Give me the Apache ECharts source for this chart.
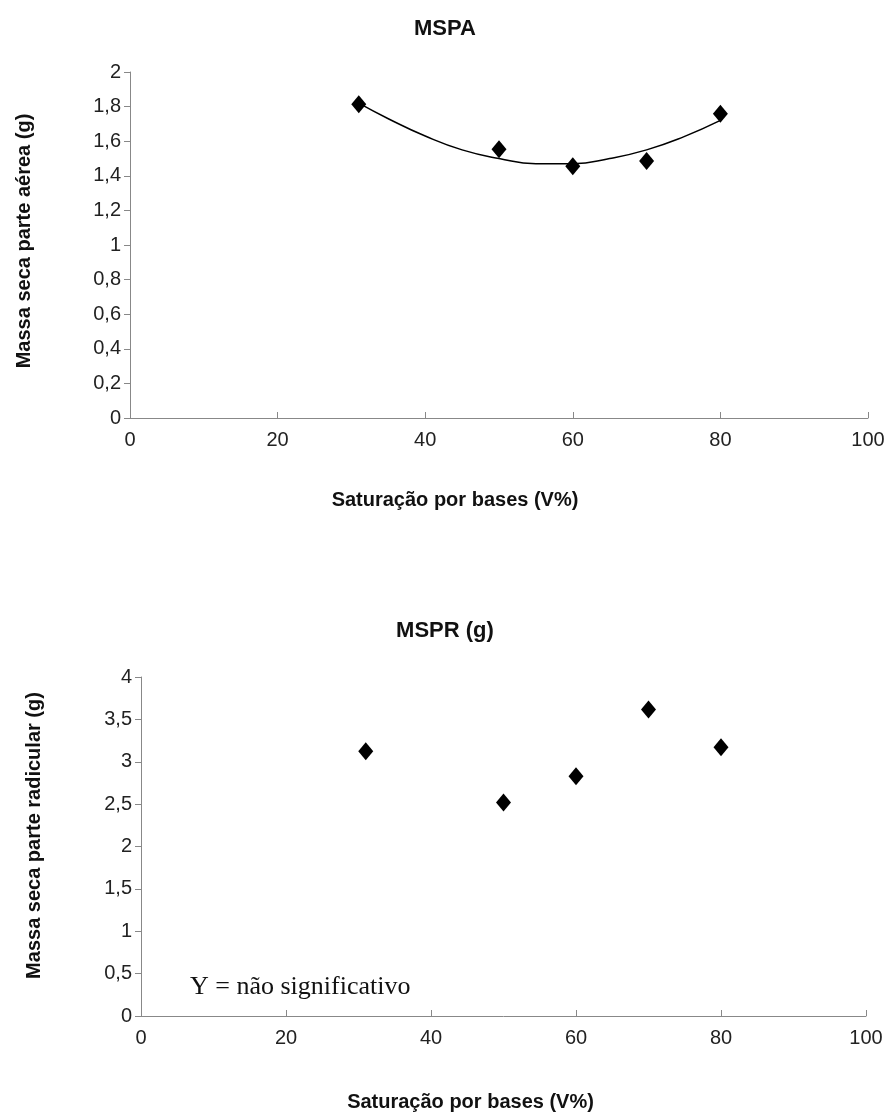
<!DOCTYPE html>
<html>
<head>
<meta charset="utf-8">
<script src="https://cdn.jsdelivr.net/npm/echarts@6/dist/echarts.min.js"></script>
<style>
html, body { margin: 0; padding: 0; background: #fff; }
#chart { width: 888px; height: 1113px; }
</style>
</head>
<body>
<div id="chart"></div>
<script>
// saturação por bases (V%)
const doses = [31, 50, 60, 70, 80];
// MSPA (g)
const mspa = [1.814, 1.554, 1.455, 1.485, 1.759];
// curva de tendência
const curvaX = [31, 35, 40, 45, 50, 55, 60, 65, 70, 75, 80];
const curvaY = [1.82, 1.73, 1.63, 1.55, 1.50, 1.47, 1.47, 1.50, 1.55, 1.625, 1.72];
// MSPR (g)
const mspr = [3.125, 2.52, 2.83, 3.616, 3.17];

const fonte = '"Liberation Sans", Arial, sans-serif';
const virgula = v => String(v).replace('.', ',');

const chart = echarts.init(document.getElementById('chart'));

function eixoX(grid, gap, desloc) {
    return {
        type: 'value', gridIndex: grid, min: 0, max: 100, interval: 20,
        name: 'Saturação por bases (V%)', nameLocation: 'middle', nameGap: gap,
        nameTextStyle: { fontFamily: fonte, fontWeight: 'bold', fontSize: 20, color: '#111', padding: [0, desloc, 0, 0] },
        axisLine: { lineStyle: { color: '#888' } },
        axisTick: { inside: true, length: 6, lineStyle: { color: '#888' } },
        axisLabel: { fontFamily: fonte, fontSize: 20, color: '#222', margin: 12 },
        splitLine: { show: false }
    };
}

function eixoY(grid, max, step, nome, gap, desloc) {
    return {
        type: 'value', gridIndex: grid, min: 0, max: max, interval: step,
        name: nome, nameLocation: 'middle', nameGap: gap, nameRotate: 90,
        nameTextStyle: { fontFamily: fonte, fontWeight: 'bold', fontSize: 20, color: '#111', padding: [0, 0, 0, desloc] },
        axisLine: { show: true, lineStyle: { color: '#888' } },
        axisTick: { show: true, length: 6, lineStyle: { color: '#888' } },
        axisLabel: { fontFamily: fonte, fontSize: 20, color: '#222', margin: 9, formatter: virgula },
        splitLine: { show: false }
    };
}

const option = {
    animation: false,
    backgroundColor: '#fff',
    title: [
        { text: 'MSPA', left: 440, top: 13, textAlign: 'center',
          textStyle: { fontFamily: fonte, fontWeight: 'bold', fontSize: 22, color: '#111' } },
        { text: 'MSPR (g)', left: 440, top: 615, textAlign: 'center',
          textStyle: { fontFamily: fonte, fontWeight: 'bold', fontSize: 22, color: '#111' } }
    ],
    grid: [
        { left: 130, width: 738, top: 72, height: 346 },
        { left: 141, width: 725, top: 677, height: 339 }
    ],
    xAxis: [eixoX(0, 72, 88), eixoX(1, 76, 66)],
    yAxis: [
        eixoY(0, 2, 0.2, 'Massa seca parte aérea (g)', 96, 8),
        eixoY(1, 4, 0.5, 'Massa seca parte radicular (g)', 97, 22)
    ],
    graphic: [{
        type: 'text', left: 190, top: 974,
        style: { text: 'Y = não significativo', font: '26px "Liberation Serif", "Times New Roman", serif', fill: '#111' }
    }],
    series: [
        {
            type: 'line', xAxisIndex: 0, yAxisIndex: 0, smooth: true, showSymbol: false,
            lineStyle: { color: '#000', width: 1.5 },
            data: curvaX.map((x, i) => [x, curvaY[i]])
        },
        {
            type: 'scatter', xAxisIndex: 0, yAxisIndex: 0, symbol: 'diamond', symbolSize: [15, 18],
            itemStyle: { color: '#000', opacity: 1 },
            data: doses.map((x, i) => [x, mspa[i]])
        },
        {
            type: 'scatter', xAxisIndex: 1, yAxisIndex: 1, symbol: 'diamond', symbolSize: [15, 18],
            itemStyle: { color: '#000', opacity: 1 },
            data: doses.map((x, i) => [x, mspr[i]])
        }
    ]
};

chart.setOption(option);
window.addEventListener('resize', function () {
    chart.resize();
});
</script>
</body>
</html>
